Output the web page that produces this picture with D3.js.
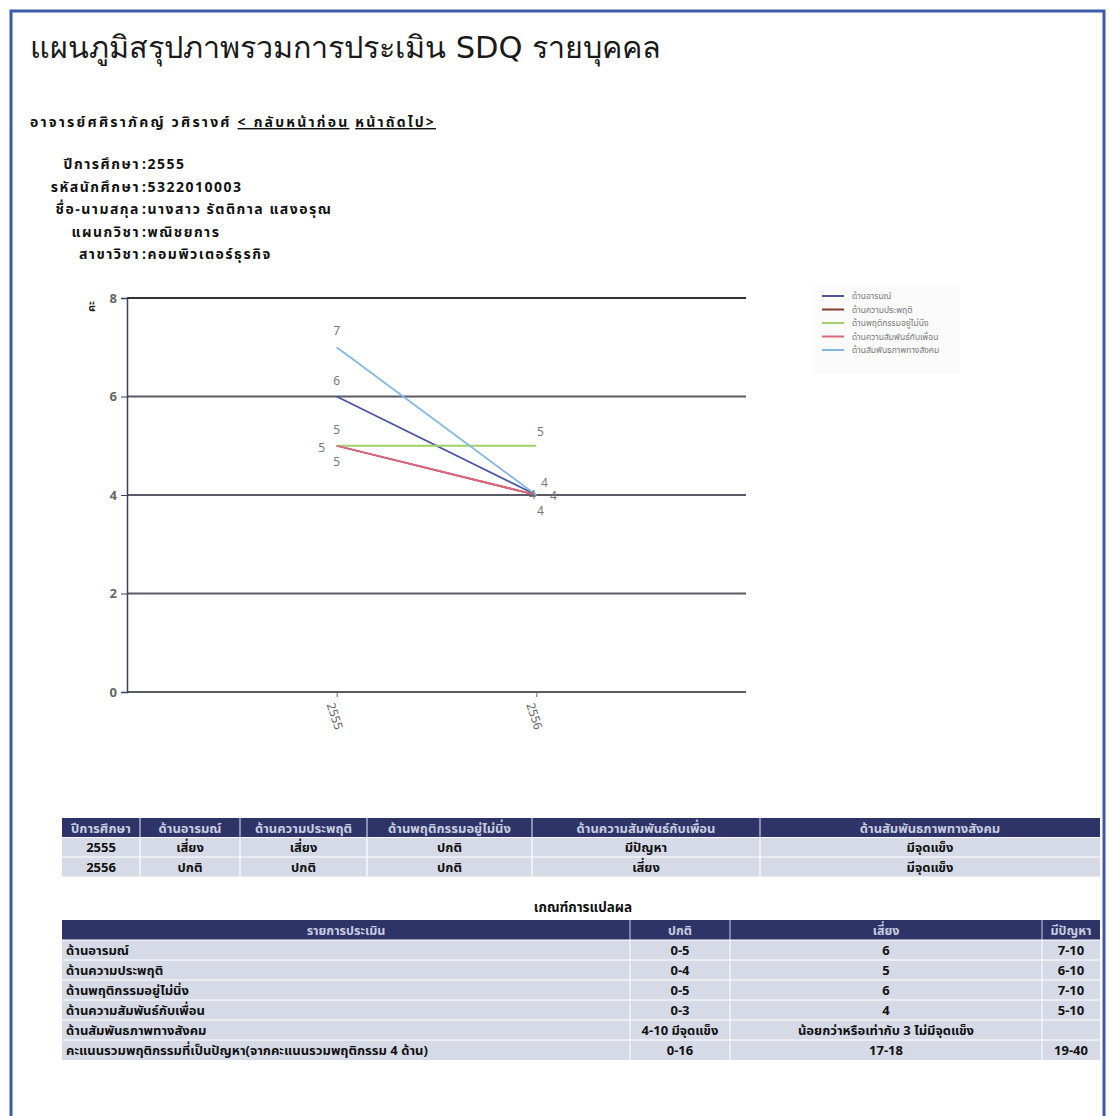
<!DOCTYPE html>
<html>
<head>
<meta charset="utf-8">
<script src="https://cdn.jsdelivr.net/npm/d3@7"></script>
<style>
  html, body { margin: 0; padding: 0; background: #ffffff; }
  svg { display: block; }
  text { font-family: Tahoma, "Noto Sans Thai", "Noto Sans", "DejaVu Sans", sans-serif; }
</style>
</head>
<body>
<svg id="chart" width="1109" height="1116"></svg>
<script>
// ---------------- DATA ----------------
const years = ["2555", "2556"];
const seriesNames = ["ด้านอารมณ์", "ด้านความประพฤติ", "ด้านพฤติกรรมอยู่ไม่นิ่ง", "ด้านความสัมพันธ์กับเพื่อน", "ด้านสัมพันธภาพทางสังคม"];
const emotional = [6, 4];
const conduct = [5, 4];
const hyperactive = [5, 5];
const peer = [5, 4];
const social = [7, 4];
const yTicks = [0, 2, 4, 6, 8];

const titleText = "แผนภูมิสรุปภาพรวมการประเมิน SDQ รายบุคคล";
const teacherText = "อาจารย์ศศิราภัคญ์ วศิรางศ์";
const prevLink = "< กลับหน้าก่อน";
const nextLink = "หน้าถัดไป>";
const infoLabels = ["ปีการศึกษา", "รหัสนักศึกษา", "ชื่อ-นามสกุล", "แผนกวิชา", "สาขาวิชา"];
const infoValues = ["2555", "5322010003", "นางสาว รัตติกาล แสงอรุณ", "พณิชยการ", "คอมพิวเตอร์ธุรกิจ"];

const resultHeaders = ["ปีการศึกษา", "ด้านอารมณ์", "ด้านความประพฤติ", "ด้านพฤติกรรมอยู่ไม่นิ่ง", "ด้านความสัมพันธ์กับเพื่อน", "ด้านสัมพันธภาพทางสังคม"];
const resultRow2555 = ["2555", "เสี่ยง", "เสี่ยง", "ปกติ", "มีปัญหา", "มีจุดแข็ง"];
const resultRow2556 = ["2556", "ปกติ", "ปกติ", "ปกติ", "เสี่ยง", "มีจุดแข็ง"];

const criteriaTitle = "เกณฑ์การแปลผล";
const criteriaHeaders = ["รายการประเมิน", "ปกติ", "เสี่ยง", "มีปัญหา"];
const criteriaItems = ["ด้านอารมณ์", "ด้านความประพฤติ", "ด้านพฤติกรรมอยู่ไม่นิ่ง", "ด้านความสัมพันธ์กับเพื่อน", "ด้านสัมพันธภาพทางสังคม", "คะแนนรวมพฤติกรรมที่เป็นปัญหา(จากคะแนนรวมพฤติกรรม 4 ด้าน)"];
const criteriaNormal = ["0-5", "0-4", "0-5", "0-3", "4-10 มีจุดแข็ง", "0-16"];
const criteriaRisk = ["6", "5", "6", "4", "น้อยกว่าหรือเท่ากับ 3 ไม่มีจุดแข็ง", "17-18"];
const criteriaProblem = ["7-10", "6-10", "7-10", "5-10", "", "19-40"];

// ---------------- STYLE ----------------
const colors = ["#4a55a8", "#8b3a2e", "#9fd06a", "#e0667e", "#86b8e6"];
const seriesValues = [emotional, conduct, hyperactive, peer, social];
// label offsets per series per point [dx, dy]
const labelOffsets = [
  [[0, -12], [8, -8]],
  [[-15, 6], [17, 5]],
  [[0, -12], [4, -10]],
  [[0, 20], [4, 20]],
  [[0, -12], [-4, 4]]
];

const svg = d3.select("#chart");

// page frame
svg.append("rect").attr("x", 11).attr("y", 11).attr("width", 1093).attr("height", 1120)
  .attr("fill", "none").attr("stroke", "#3d5aa8").attr("stroke-width", 3);

// title
svg.append("text").attr("x", 30).attr("y", 58).attr("font-size", 30.5).attr("fill", "#1a1a1a")
  .style("font-family", "'DejaVu Sans', sans-serif")
  .text(titleText);

// teacher line + links
const tl = svg.append("text").attr("x", 30).attr("y", 127).attr("font-size", 14).attr("font-weight", "bold")
  .attr("letter-spacing", 2.2).attr("fill", "#111");
tl.append("tspan").text(teacherText + "  ");
tl.append("tspan").attr("text-decoration", "underline").text(prevLink);
tl.append("tspan").text(" ");
tl.append("tspan").attr("text-decoration", "underline").text(nextLink);

// info block
const info = svg.append("g");
infoLabels.forEach((lab, i) => {
  const y = 169 + i * 22.5;
  info.append("text").attr("x", 140).attr("y", y).attr("text-anchor", "end")
    .attr("font-size", 14).attr("letter-spacing", 1.5).attr("font-weight", "bold").attr("fill", "#111").text(lab);
  info.append("text").attr("x", 142).attr("y", y)
    .attr("font-size", 14).attr("letter-spacing", 1.5).attr("font-weight", "bold").attr("fill", "#111").text(":" + infoValues[i]);
});

// ---------------- CHART ----------------
const plot = { left: 127, right: 746, top: 298, bottom: 692 };
const x = d3.scalePoint().domain(years).range([plot.left, plot.right]).padding(1.05);
const y = d3.scaleLinear().domain([0, 8]).range([plot.bottom, plot.top]);

const g = svg.append("g");

// gridlines
g.append("g").selectAll("line").data(yTicks).join("line")
  .attr("x1", plot.left).attr("x2", plot.right)
  .attr("y1", d => y(d)).attr("y2", d => y(d))
  .attr("stroke", d => d === 8 ? "#333" : "#5a5a66").attr("stroke-width", 2);

// y axis
const yAxis = g.append("g").attr("transform", `translate(${plot.left},0)`)
  .call(d3.axisLeft(y).tickValues(yTicks).tickSize(6).tickPadding(4).tickFormat(d3.format("d")));
yAxis.select(".domain").attr("stroke", "#3a3f66").attr("stroke-width", 1.5);
yAxis.selectAll(".tick line").attr("stroke", "#3a3f66");
yAxis.selectAll(".tick text").attr("font-size", 13).attr("fill", "#666").attr("font-weight", "bold");

// x axis
const xAxis = g.append("g").attr("transform", `translate(0,${plot.bottom})`)
  .call(d3.axisBottom(x).tickSize(5).tickSizeOuter(0));
xAxis.select(".domain").remove();
xAxis.selectAll(".tick line").attr("stroke", "#666");
xAxis.selectAll(".tick text").attr("font-size", 12).attr("fill", "#666")
  .attr("text-anchor", "start").attr("dy", 0)
  .attr("transform", "translate(-3,10) rotate(72)");

// y-axis small title mark
g.append("text").attr("x", 95).attr("y", 312).attr("font-size", 11).attr("font-weight", "bold")
  .attr("fill", "#222").attr("transform", "rotate(-90,95,312)").text("คะ");

// lines
const line = d3.line().x((d, i) => x(years[i])).y(d => y(d));
g.append("g").selectAll("path").data(seriesValues).join("path")
  .attr("d", d => line(d)).attr("fill", "none")
  .attr("stroke", (d, i) => colors[i]).attr("stroke-width", 1.8);

// data labels
seriesValues.forEach((vals, si) => {
  g.append("g").selectAll("text").data(vals).join("text")
    .attr("x", (d, i) => x(years[i]) + labelOffsets[si][i][0])
    .attr("y", (d, i) => y(d) + labelOffsets[si][i][1])
    .attr("text-anchor", "middle").attr("font-size", 12).attr("fill", "#777")
    .text(d => d);
});

// legend
const legend = svg.append("g").attr("transform", "translate(812,284)");
legend.append("rect").attr("width", 148).attr("height", 90).attr("fill", "#fbfbfb");
seriesNames.forEach((n, i) => {
  const ly = 12 + i * 13.5;
  legend.append("line").attr("x1", 10).attr("x2", 32).attr("y1", ly).attr("y2", ly)
    .attr("stroke", colors[i]).attr("stroke-width", 2);
  legend.append("text").attr("x", 40).attr("y", ly + 3).attr("font-size", 8.5).attr("fill", "#777").text(n);
});

// ---------------- TABLES ----------------
const headBg = "#2e3468", headFg = "#c9cde0", rowBg = "#d6dae6";

// results table
const t1 = svg.append("g");
const t1Cols = [62, 140, 240, 367, 532, 760, 1100];
const t1Top = 818, t1RowH = 19.5;
const t1Rows = [resultHeaders, resultRow2555, resultRow2556];
t1Rows.forEach((row, r) => {
  const ry = t1Top + r * t1RowH;
  t1.append("rect").attr("x", t1Cols[0]).attr("y", ry).attr("width", t1Cols[6] - t1Cols[0]).attr("height", t1RowH)
    .attr("fill", r === 0 ? headBg : rowBg);
  row.forEach((cell, c) => {
    if (c > 0) t1.append("line").attr("x1", t1Cols[c]).attr("x2", t1Cols[c]).attr("y1", ry).attr("y2", ry + t1RowH)
      .attr("stroke", r === 0 ? "#c9cde0" : "#ffffff").attr("stroke-width", 1.2);
    t1.append("text").attr("x", (t1Cols[c] + t1Cols[c + 1]) / 2).attr("y", ry + 14.5)
      .attr("text-anchor", "middle").attr("font-size", 13).attr("font-weight", "bold")
      .attr("fill", r === 0 ? headFg : "#111").text(cell);
  });
  if (r > 0) t1.append("line").attr("x1", t1Cols[0]).attr("x2", t1Cols[6]).attr("y1", ry).attr("y2", ry).attr("stroke", "#fff");
});

// criteria title
svg.append("text").attr("x", 583).attr("y", 912).attr("text-anchor", "middle")
  .attr("font-size", 13.5).attr("font-weight", "bold").attr("fill", "#111").text(criteriaTitle);

// criteria table
const t2 = svg.append("g");
const t2Cols = [62, 630, 730, 1042, 1100];
const t2Top = 920, t2RowH = 20;
t2.append("rect").attr("x", t2Cols[0]).attr("y", t2Top).attr("width", t2Cols[4] - t2Cols[0]).attr("height", t2RowH).attr("fill", headBg);
criteriaHeaders.forEach((h, c) => {
  if (c > 0) t2.append("line").attr("x1", t2Cols[c]).attr("x2", t2Cols[c]).attr("y1", t2Top).attr("y2", t2Top + t2RowH).attr("stroke", "#c9cde0");
  t2.append("text").attr("x", (t2Cols[c] + t2Cols[c + 1]) / 2).attr("y", t2Top + 14.5)
    .attr("text-anchor", "middle").attr("font-size", 12.5).attr("font-weight", "bold").attr("fill", headFg).text(h);
});
criteriaItems.forEach((item, r) => {
  const ry = t2Top + (r + 1) * t2RowH;
  t2.append("rect").attr("x", t2Cols[0]).attr("y", ry).attr("width", t2Cols[4] - t2Cols[0]).attr("height", t2RowH).attr("fill", rowBg);
  t2.append("line").attr("x1", t2Cols[0]).attr("x2", t2Cols[4]).attr("y1", ry).attr("y2", ry).attr("stroke", "#fff");
  [1, 2, 3].forEach(c => t2.append("line").attr("x1", t2Cols[c]).attr("x2", t2Cols[c]).attr("y1", ry).attr("y2", ry + t2RowH).attr("stroke", "#fff"));
  t2.append("text").attr("x", 66).attr("y", ry + 15).attr("font-size", 13).attr("font-weight", "bold").attr("fill", "#111").text(item);
  const vals = [criteriaNormal[r], criteriaRisk[r], criteriaProblem[r]];
  vals.forEach((v, k) => {
    t2.append("text").attr("x", (t2Cols[k + 1] + t2Cols[k + 2]) / 2).attr("y", ry + 15)
      .attr("text-anchor", "middle").attr("font-size", 13).attr("font-weight", "bold").attr("fill", "#111").text(v);
  });
});
</script>
</body>
</html>
